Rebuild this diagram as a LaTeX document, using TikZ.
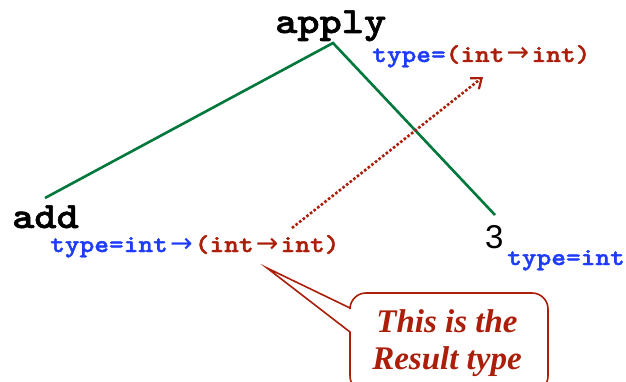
\documentclass[tikz,border=0pt]{standalone}
\usepackage{fontspec}
\setmainfont{Liberation Serif}
\newfontfamily\cour[FakeStretch=1.143,FakeBold=1.6]{lmmonolt10-bold.otf}
\newfontfamily\arialf{Liberation Sans}
\newfontfamily\dejavu{DejaVu Sans}
\usetikzlibrary{arrows.meta}
\definecolor{tgreen}{RGB}{0,120,60}
\definecolor{tblue}{RGB}{30,60,250}
\definecolor{tred}{RGB}{170,30,10}
\newcommand\rarr{\makebox[27pt]{\dejavu\fontsize{27}{27}\selectfont →}}
\tikzset{
  code/.style={inner sep=0pt, font=\cour\fontsize{37}{40}\selectfont},
  typ/.style={inner sep=0pt, font=\cour\fontsize{24.5}{28}\selectfont, text=tblue},
  edge/.style={draw=tgreen, line width=2.6pt},
  resarrow/.style={draw=tred, line width=2.6pt, dotted, -{Straight Barb[length=9pt,width=14pt,line width=2.2pt]}},
  callbox/.style={draw=tred, line width=1.6pt, fill=white},
  calltext/.style={inner sep=0pt, align=center, text=tred, font=\bfseries\itshape\fontsize{33}{37}\selectfont}
}
\begin{document}
\begin{tikzpicture}[x=1pt,y=-1pt]
\useasboundingbox (0,0) rectangle (626,382);
\clip (0,0) rectangle (626,382);
\node[code, anchor=base west] (apply) at (275,33) {apply};
\node[typ, anchor=base west] (tapply) at (372,62) {type=\textcolor{tred}{(int\rarr int)}};
\node[code, anchor=base west] (add) at (12,228) {add};
\node[typ, anchor=base west] (tadd) at (50,252) {type=int\rarr\textcolor{tred}{(int\rarr int)}};
\node[inner sep=0pt, anchor=base west, font=\arialf\fontsize{33}{36}\selectfont] (three) at (485,248) {3};
\node[typ, anchor=base west] (tthree) at (507,265) {type=int};
\coordinate (applybot) at (333,43);
\coordinate (addtop) at (45,198);
\coordinate (threetop) at (495,215);
\draw[edge] (addtop) -- (applybot) -- (threetop);
\coordinate (rs) at (292,228);
\coordinate (re) at (483,77);
\draw[resarrow] (rs) -- (re);
\coordinate (tip) at (267,268);
\draw[callbox] (tip) -- (350,332) [rounded corners=16] -- (350,392) -- (548,392) -- (548,293) -- (350,293) [sharp corners] -- (350,308) -- cycle;
\node[calltext, anchor=base] (call) at (447,369) {This is the\\Result type};
\end{tikzpicture}
\end{document}
